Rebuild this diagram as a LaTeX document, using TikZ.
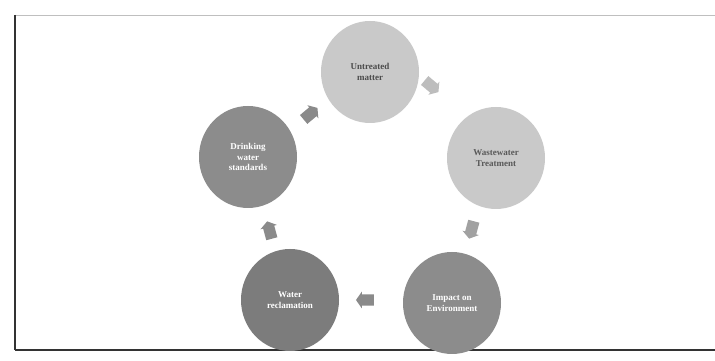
\documentclass[tikz,border=0pt]{standalone}
\usepackage{fontspec}
\setmainfont{Liberation Serif}
\usetikzlibrary{shapes.arrows,shapes.geometric}
\definecolor{clight}{HTML}{C9C9C9}
\definecolor{cmid}{HTML}{8C8C8C}
\definecolor{cdark}{HTML}{7C7C7C}
\definecolor{arrlight}{HTML}{BDBDBD}
\definecolor{arrdark}{HTML}{8A8A8A}
\tikzset{
  stage/.style={ellipse,minimum width=98pt,minimum height=102pt,inner sep=0pt,align=center,
    font=\fontsize{9}{10.5}\selectfont\bfseries},
  chev/.style={single arrow,minimum height=18pt,minimum width=17pt,single arrow head extend=2.5pt,
    single arrow tip angle=110,inner sep=5pt,draw=none},
}
\begin{document}
\begin{tikzpicture}[x=1pt,y=1pt]
\useasboundingbox (0,0) rectangle (715,361);
\fill[white] (0,0) rectangle (715,361);
% frame
\draw[black!25,line width=0.6pt] (15,346) -- (715,346);
\draw[black!80,line width=1.2pt] (15,346) -- (15,11);
\draw[black!80,line width=1.2pt] (15,11) -- (715,11);
% stages
\node[stage,fill=clight,text=black!70] (t) at (370,289) {Untreated\\matter};
\node[stage,fill=clight,text=black!65] (r) at (496,203) {Wastewater\\Treatment};
\node[stage,fill=cmid,text=white] (br) at (452,58) {Impact on\\Environment};
\node[stage,fill=cdark,text=white] (bl) at (290,61) {Water\\reclamation};
\node[stage,fill=cmid,text=white] (l) at (248,204) {Drinking\\water\\standards};
% arrows
\node[chev,fill=arrlight,rotate=-40] (a1) at (430,276) {};
\node[chev,fill=arrlight!85!black,rotate=-105] (a2) at (472,133) {};
\node[chev,fill=arrdark,rotate=180] (a3) at (367,61) {};
\node[chev,fill=arrdark,rotate=105] (a4) at (270,129) {};
\node[chev,fill=arrdark,rotate=40] (a5) at (309,246) {};
\end{tikzpicture}
\end{document}
